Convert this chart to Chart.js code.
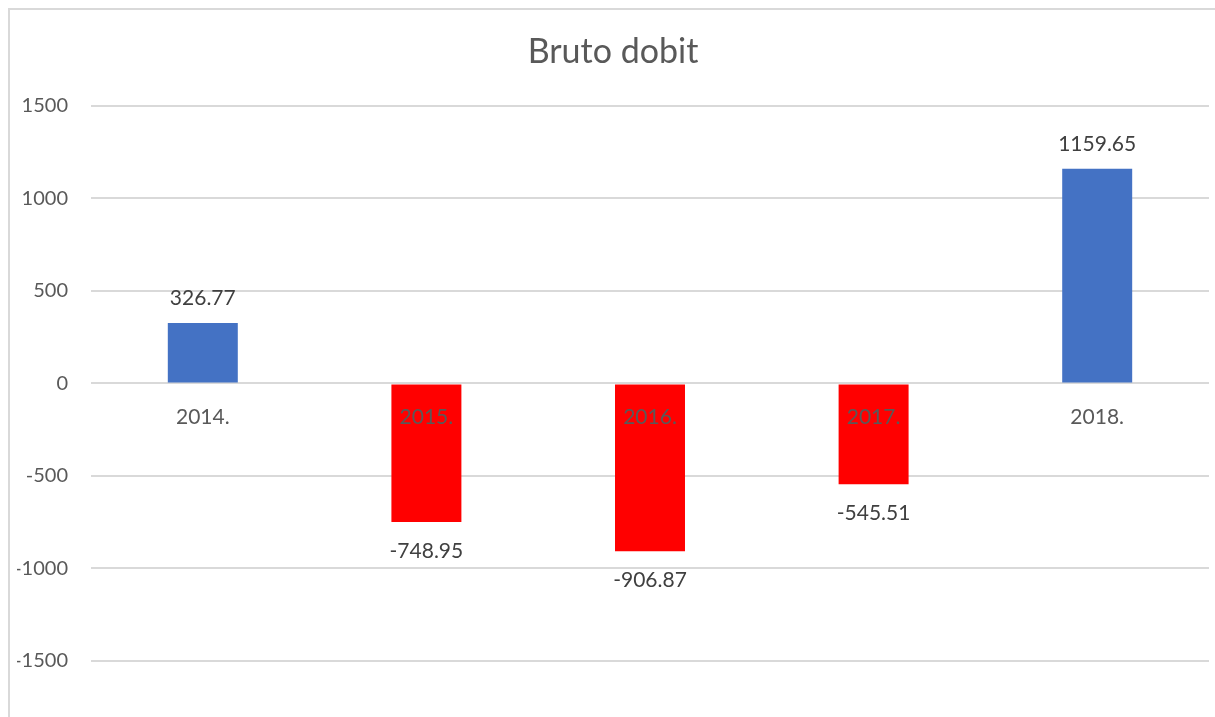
<!DOCTYPE html>
<html>
<head>
<meta charset="utf-8">
<title>Bruto dobit</title>
<script src="https://cdn.jsdelivr.net/npm/chart.js@4/dist/chart.umd.min.js"></script>
<style>
  html, body { margin: 0; padding: 0; background: #fff; overflow: hidden; }
  #frame {
    position: absolute; left: 8px; top: 8px;
    width: 1400px; height: 900px;
    border: 2px solid #d9d9d9;
  }
  #wrap { position: absolute; left: 0; top: 0; width: 1215px; height: 717px; }
</style>
</head>
<body>
<div id="frame"></div>
<div id="wrap"><canvas id="myChart"></canvas></div>
<script>
// data
const years = ['2014.', '2015.', '2016.', '2017.', '2018.']
const profit = [326.77, -748.95, -906.87, -545.51, 1159.65]
const yTicks = [-1500, -1000, -500, 0, 500, 1000, 1500]

const posColor = '#4472C4'
const negColor = '#FF0000'
const fontName = 'Lato, "Open Sans", sans-serif'

// value labels above / below the bars
const valueLabels = {
    id: 'valueLabels',
    afterDatasetsDraw(chart) {
        const ctx = chart.ctx
        const meta = chart.getDatasetMeta(0)
        ctx.save()
        ctx.font = '21px ' + fontName
        ctx.fillStyle = '#404040'
        ctx.textAlign = 'center'
        ctx.textBaseline = 'middle'
        meta.data.forEach(function(bar, i){
            const v = profit[i]
            const y = v >= 0 ? bar.y - 25 : bar.y + 29
            ctx.fillText(v.toFixed(2), bar.x, y)
        })
        ctx.restore()
    }
}

const ctx = document.getElementById('myChart').getContext('2d')
const myChart = new Chart(ctx, {
    type: 'bar',
    data: {
        labels: years,
        datasets: [{
            label: 'Bruto dobit',
            data: profit,
            backgroundColor: profit.map(v => v >= 0 ? posColor : negColor),
            barPercentage: 0.313,
            categoryPercentage: 1
        }]
    },
    options: {
        responsive: true,
        maintainAspectRatio: false,
        animation: false,
        layout: { padding: { left: 17, right: 6, top: 22, bottom: 56 } },
        plugins: {
            legend: { display: false },
            tooltip: { enabled: false },
            title: {
                display: true,
                text: 'Bruto dobit',
                color: '#595959',
                font: { family: fontName, size: 34, weight: 'normal' },
                padding: { top: 10, bottom: 33 }
            }
        },
        scales: {
            x: {
                position: { y: 0 },
                grid: { display: false, drawTicks: false },
                border: { display: false },
                ticks: {
                    z: 1,
                    color: '#595959',
                    font: { family: fontName, size: 21 },
                    padding: 21
                }
            },
            y: {
                min: yTicks[0],
                max: yTicks[yTicks.length - 1],
                afterBuildTicks: function(axis){
                    axis.ticks = yTicks.map(v => ({ value: v }))
                },
                afterFit: function(axis){
                    axis.width = 74
                },
                grid: { color: '#d9d9d9', lineWidth: 2, drawTicks: false },
                border: { display: false },
                ticks: {
                    color: '#595959',
                    font: { family: fontName, size: 20 },
                    padding: 23,
                    callback: function(value){ return String(value) }
                }
            }
        }
    },
    plugins: [valueLabels]
})
</script>
</body>
</html>
